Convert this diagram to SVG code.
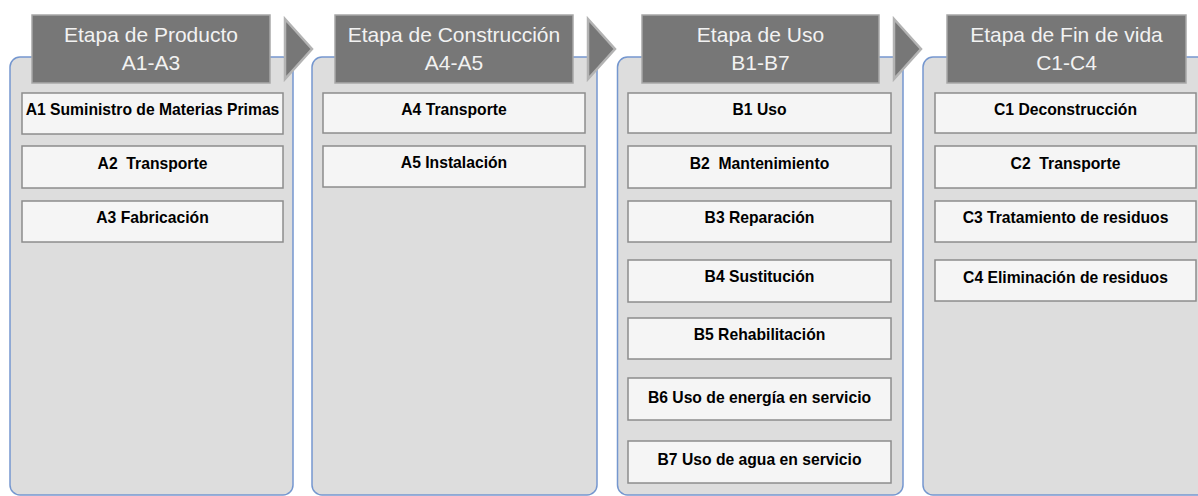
<svg xmlns="http://www.w3.org/2000/svg" width="1198" height="496" viewBox="0 0 1198 496">
<style>
.panel{fill:#dddddd;stroke:#7597cf;stroke-width:1.5}
.hdr{fill:#777777;stroke:#a8a8a8;stroke-width:1.5}
.htxt{font-family:"Liberation Sans",Arial,sans-serif;font-size:21px;fill:#f2f2f2;text-anchor:middle}
.box{fill:#f5f5f5;stroke:#8c8c8c;stroke-width:1.5}
.btxt{font-family:"Liberation Sans",Arial,sans-serif;font-size:15.7px;font-weight:bold;fill:#000;text-anchor:middle;white-space:pre}
.arr{fill:#777777;stroke:#b3b3b3;stroke-width:2.5;stroke-linejoin:miter}
</style>
<rect width="1198" height="496" fill="#ffffff"/>

<g id="stage-producto">
<rect class="panel" x="10" y="57" width="283" height="438" rx="10"/>
<rect class="hdr" x="32" y="15" width="238" height="68"/>
<text class="htxt" x="151" y="42">Etapa de Producto</text>
<text class="htxt" x="151" y="70">A1-A3</text>
</g>
<g id="A1"><rect class="box" x="22" y="93" width="261" height="41"/><text class="btxt" x="152.5" y="115">A1 Suministro de Materias Primas</text></g>
<g id="A2"><rect class="box" x="22" y="146" width="261" height="42"/><text class="btxt" x="152.5" y="169">A2  Transporte</text></g>
<g id="A3"><rect class="box" x="22" y="201" width="261" height="41"/><text class="btxt" x="152.5" y="223">A3 Fabricación</text></g>

<g id="stage-construccion">
<rect class="panel" x="312" y="57" width="285" height="438" rx="10"/>
<rect class="hdr" x="335" y="15" width="238" height="68"/>
<text class="htxt" x="454" y="42">Etapa de Construcción</text>
<text class="htxt" x="454" y="70">A4-A5</text>
</g>
<g id="A4"><rect class="box" x="323" y="93" width="262" height="40"/><text class="btxt" x="454" y="115">A4 Transporte</text></g>
<g id="A5"><rect class="box" x="323" y="146" width="262" height="41"/><text class="btxt" x="454" y="168">A5 Instalación</text></g>

<g id="stage-uso">
<rect class="panel" x="617.5" y="57" width="285.5" height="438" rx="10"/>
<rect class="hdr" x="642" y="15" width="237" height="68"/>
<text class="htxt" x="760.5" y="42">Etapa de Uso</text>
<text class="htxt" x="760.5" y="70">B1-B7</text>
</g>
<g id="B1"><rect class="box" x="628" y="93" width="263" height="40"/><text class="btxt" x="759.5" y="115">B1 Uso</text></g>
<g id="B2"><rect class="box" x="628" y="146" width="263" height="42"/><text class="btxt" x="759.5" y="169">B2  Mantenimiento</text></g>
<g id="B3"><rect class="box" x="628" y="201" width="263" height="41"/><text class="btxt" x="759.5" y="223">B3 Reparación</text></g>
<g id="B4"><rect class="box" x="628" y="260" width="263" height="42"/><text class="btxt" x="759.5" y="282">B4 Sustitución</text></g>
<g id="B5"><rect class="box" x="628" y="318" width="263" height="41"/><text class="btxt" x="759.5" y="340">B5 Rehabilitación</text></g>
<g id="B6"><rect class="box" x="628" y="378" width="263" height="42"/><text class="btxt" x="759.5" y="403">B6 Uso de energía en servicio</text></g>
<g id="B7"><rect class="box" x="628" y="441" width="263" height="42"/><text class="btxt" x="759.5" y="465">B7 Uso de agua en servicio</text></g>

<g id="stage-fin-de-vida">
<rect class="panel" x="923" y="57" width="290" height="438" rx="10"/>
<rect class="hdr" x="947" y="15" width="239" height="68"/>
<text class="htxt" x="1066.5" y="42">Etapa de Fin de vida</text>
<text class="htxt" x="1066.5" y="70">C1-C4</text>
</g>
<g id="C1"><rect class="box" x="935" y="93" width="261" height="40"/><text class="btxt" x="1065.5" y="115">C1 Deconstrucción</text></g>
<g id="C2"><rect class="box" x="935" y="146" width="261" height="42"/><text class="btxt" x="1065.5" y="169">C2  Transporte</text></g>
<g id="C3"><rect class="box" x="935" y="201" width="261" height="41"/><text class="btxt" x="1065.5" y="223">C3 Tratamiento de residuos</text></g>
<g id="C4"><rect class="box" x="935" y="260" width="261" height="41"/><text class="btxt" x="1065.5" y="283">C4 Eliminación de residuos</text></g>

<g id="connectors">
<polygon class="arr" points="285,19 312,49 285,79"/>
<polygon class="arr" points="588,19 615,49 588,79"/>
<polygon class="arr" points="894,19 921,49 894,79"/>
</g>
</svg>
